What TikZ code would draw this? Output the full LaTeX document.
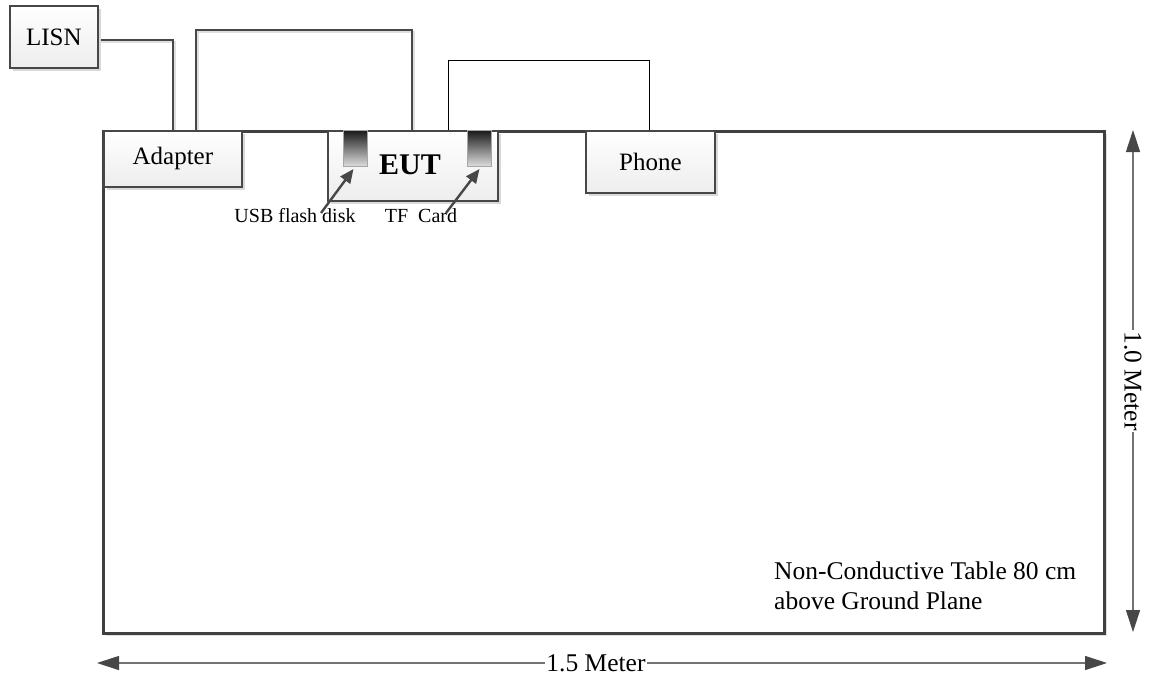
\documentclass[tikz,border=0pt]{standalone}
\usepackage{fontspec}
\setmainfont{Liberation Serif}
\usetikzlibrary{arrows.meta,shadows,calc}
\begin{document}
\begin{tikzpicture}[x=1pt,y=-1pt,
  box/.style={draw=black!72, line width=1.8pt, top color=white, bottom color=gray!14,
    drop shadow={shadow xshift=3pt,shadow yshift=-3pt,fill=gray!30,opacity=1},
    font=\fontsize{25}{30}\selectfont, inner sep=0pt, anchor=north west},
  card/.style={draw=gray!70, line width=1pt, top color=black!90, bottom color=gray!25,
    inner sep=0pt, anchor=north west, minimum width=24pt, minimum height=36pt},
  cable/.style={draw=black!72, line width=2.4pt,
    preaction={draw=gray!25, line width=2.4pt, transform canvas={shift={(2pt,-2pt)}}}},
  thincable/.style={draw=black, line width=1pt},
  ptr/.style={draw=black!72, line width=2.4pt, -{Triangle[length=14pt,width=12pt]}},
  dim/.style={draw=black!55, line width=1.2pt,
    {Triangle[length=22pt,width=14pt,fill=black!72,color=black!72]}-{Triangle[length=22pt,width=14pt,fill=black!72,color=black!72]}},
  lbl/.style={font=\fontsize{20}{24}\selectfont, inner sep=0pt},
  txt/.style={font=\fontsize{25.5}{30}\selectfont, inner sep=0pt}
]
\useasboundingbox (0,0) rectangle (1150,678);

% table
\node[draw=black!75, line width=3pt, inner sep=0pt, anchor=north west,
  minimum width=1001pt, minimum height=502pt,
  drop shadow={shadow xshift=2pt,shadow yshift=-2pt,fill=gray!25,opacity=1}, fill=white] (table) at (102,130) {};

% cables
\coordinate (c1a) at (97,40);
\coordinate (c1b) at (173,130);
\coordinate (c2a) at (196,130);
\coordinate (c2b) at (412,130);
\coordinate (c3a) at (448,130);
\coordinate (c3b) at (649,130);
\draw[cable] (c1a) -| (c1b);
\draw[cable] (c2a) -- (196,30) -| (c2b);
\draw[thincable] (c3a) -- (448,60) -| (c3b);

% boxes
\node[box, minimum width=88pt, minimum height=62pt] (lisn) at (9,5) {LISN};
\node[box, minimum width=138pt, minimum height=56pt] (adapter) at (103,130) {Adapter};
\node[box, minimum width=170pt, minimum height=70pt] (eut) at (327,130) {};
\node[font=\fontsize{30}{36}\selectfont\bfseries, inner sep=0pt] (euttext) at (410,165) {EUT};
\node[box, minimum width=129pt, minimum height=62pt] (phone) at (585,130) {Phone};

% cards
\node[card] (card1) at (343,130) {};
\node[card] (card2) at (467,130) {};

% labels and pointers
\node[lbl] (usb) at (295,216) {USB flash disk};
\node[lbl] (tf) at (421,216) {TF\ \ Card};
\coordinate (p1) at (321,213);
\coordinate (p2) at (446,213);
\draw[ptr] (p1) -- ($(card1.south)+(-2,2)$);
\draw[ptr] (p2) -- ($(card2.south)+(0,2)$);

% table text
\node[txt, align=left, anchor=north west] (tabletext) at (774,562)
  {Non-Conductive Table 80 cm\\above Ground Plane};

% dimensions
\coordinate (v1) at (1133,130);
\coordinate (v2) at (1133,632);
\draw[dim] (v1) -- (v2) node[pos=0.5, txt, rotate=-90, fill=white, inner xsep=1pt] (vlabel) {1.0 Meter};
\coordinate (h1) at (97,663);
\coordinate (h2) at (1107,663);
\draw[dim] (h1) -- (h2) node[pos=0.494, txt, fill=white, inner xsep=1pt] (hlabel) {1.5 Meter};
\end{tikzpicture}
\end{document}
